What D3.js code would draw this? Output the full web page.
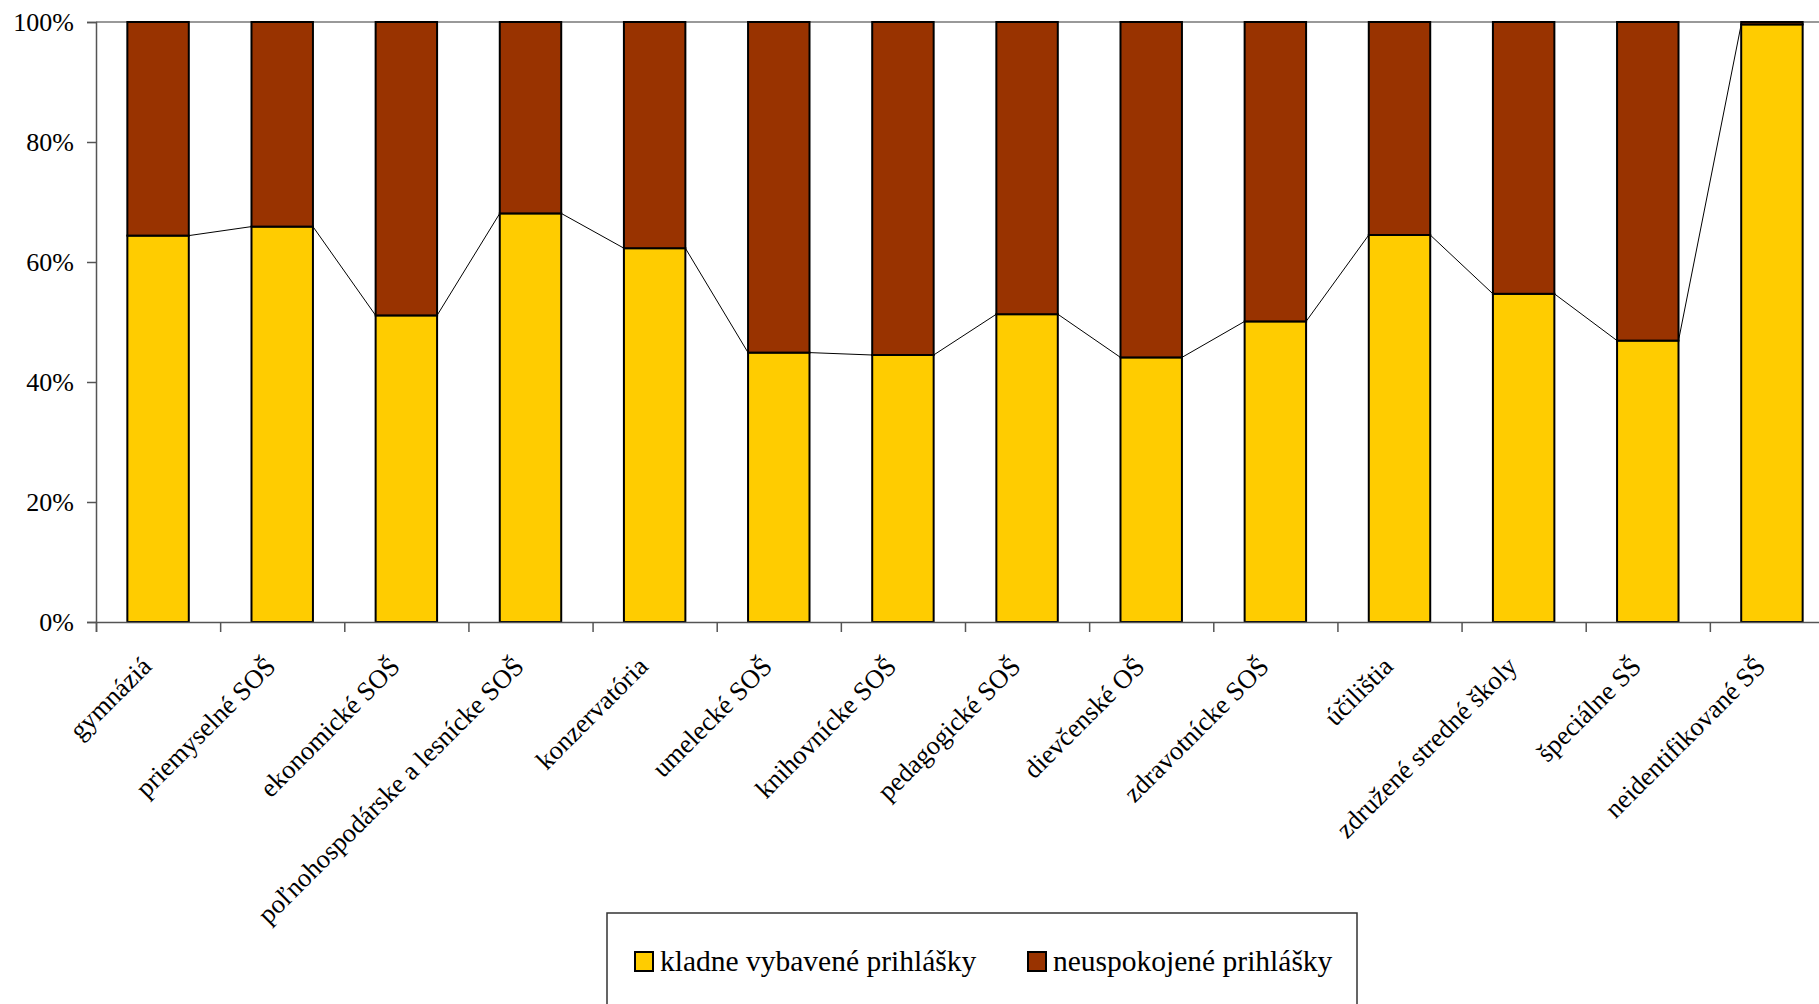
<!DOCTYPE html>
<html lang="sk">
<head>
<meta charset="UTF-8">
<title>Prihlášky podľa typu školy</title>
<script src="https://d3js.org/d3.v7.min.js"></script>
<style>
  html, body { margin: 0; padding: 0; background: #fff; overflow: hidden; }
  text { font-family: "Liberation Serif", "Times New Roman", serif; fill: #000; }
</style>
</head>
<body>
<svg width="1819" height="1004"></svg>
<script>
// categories and shares (in %)
var categories = ["gymnáziá", "priemyselné SOŠ", "ekonomické SOŠ", "poľnohospodárske a lesnícke SOŠ",
  "konzervatória", "umelecké SOŠ", "knihovnícke SOŠ", "pedagogické SOŠ", "dievčenské OŠ",
  "zdravotnícke SOŠ", "účilištia", "združené stredné školy", "špeciálne SŠ", "neidentifikované SŠ"];
var kladne = [64.4, 65.9, 51.1, 68.1, 62.3, 44.9, 44.5, 51.3, 44.1, 50.1, 64.5, 54.7, 46.9, 99.6];
var neuspokojene = kladne.map(function(v) { return 100 - v; });
var seriesNames = ["kladne vybavené prihlášky", "neuspokojené prihlášky"];
var seriesColors = ["#ffcc00", "#993300"];
var yTicks = [0, 20, 40, 60, 80, 100];

var svg = d3.select("svg");
var plotLeft = 96, plotRight = 1834, plotTop = 22, plotBottom = 622;

var x = d3.scaleBand().domain(categories).range([plotLeft, plotRight]).paddingInner(0.505).paddingOuter(0.2525);
var xb = d3.scaleLinear().domain([0, categories.length]).range([plotLeft, plotRight]);
var y = d3.scaleLinear().domain([0, 100]).range([plotBottom, plotTop]);

var rows = categories.map(function(c, i) { return { cat: c, a: kladne[i], b: neuspokojene[i] }; });
var stacked = d3.stack().keys(["a", "b"])(rows);

// top border line at 100%
svg.append("line")
  .attr("x1", plotLeft).attr("x2", plotRight)
  .attr("y1", y(100)).attr("y2", y(100))
  .attr("stroke", "#777").attr("stroke-width", 1.5);

// bars
svg.selectAll("g.series")
  .data(stacked)
  .enter().append("g")
  .attr("class", "series")
  .attr("fill", function(d, i) { return seriesColors[i]; })
  .selectAll("rect")
  .data(function(d) { return d; })
  .enter().append("rect")
  .attr("x", function(d) { return x(d.data.cat); })
  .attr("width", x.bandwidth())
  .attr("y", function(d) { return y(d[1]); })
  .attr("height", function(d) { return y(d[0]) - y(d[1]); })
  .attr("stroke", "#000")
  .attr("stroke-width", 2);

// series lines between bars
var segs = d3.pairs(rows);
svg.selectAll("line.series-line")
  .data(segs)
  .enter().append("line")
  .attr("class", "series-line")
  .attr("x1", function(d) { return x(d[0].cat) + x.bandwidth(); })
  .attr("y1", function(d) { return y(d[0].a); })
  .attr("x2", function(d) { return x(d[1].cat); })
  .attr("y2", function(d) { return y(d[1].a); })
  .attr("stroke", "#000")
  .attr("stroke-width", 1);

// y axis
var yAxis = svg.append("g")
  .attr("transform", "translate(" + plotLeft + ",0)")
  .call(d3.axisLeft(y).tickValues(yTicks).tickSize(9).tickPadding(13)
    .tickFormat(function(d) { return d + "%"; }));
yAxis.select(".domain").attr("stroke", "#555").attr("stroke-width", 1.5);
yAxis.selectAll(".tick line").attr("stroke", "#555").attr("stroke-width", 1.5);
yAxis.selectAll("text").attr("font-size", 26).attr("font-family", "Liberation Serif");

// x axis (ticks at band boundaries)
var xAxis = svg.append("g")
  .attr("transform", "translate(0," + plotBottom + ")")
  .call(d3.axisBottom(xb).tickValues(d3.range(0, categories.length + 1)).tickSize(10).tickFormat(""));
xAxis.select(".domain").attr("stroke", "#555").attr("stroke-width", 1.5);
xAxis.selectAll(".tick line").attr("stroke", "#555").attr("stroke-width", 1.5);

// category labels
svg.append("g").selectAll("text")
  .data(categories)
  .enter().append("text")
  .attr("transform", function(d) {
    return "translate(" + (x(d) + x.bandwidth() / 2 - 5) + "," + (plotBottom + 46) + ") rotate(-45)";
  })
  .attr("text-anchor", "end")
  .attr("font-size", 26.5)
  .text(function(d) { return d; });

// legend
var legend = svg.append("g");
legend.append("rect")
  .attr("x", 607).attr("y", 913).attr("width", 750).attr("height", 120)
  .attr("fill", "#fff").attr("stroke", "#333").attr("stroke-width", 1.5);
var legX = [635, 1028];
var items = legend.selectAll("g.item")
  .data(seriesNames)
  .enter().append("g")
  .attr("class", "item")
  .attr("transform", function(d, i) { return "translate(" + legX[i] + ",952)"; });
items.append("rect")
  .attr("width", 18).attr("height", 19)
  .attr("fill", function(d, i) { return seriesColors[i]; })
  .attr("stroke", "#000").attr("stroke-width", 2);
items.append("text")
  .attr("x", 25).attr("y", 19)
  .attr("font-size", 29.5)
  .text(function(d) { return d; });
</script>
</body>
</html>
